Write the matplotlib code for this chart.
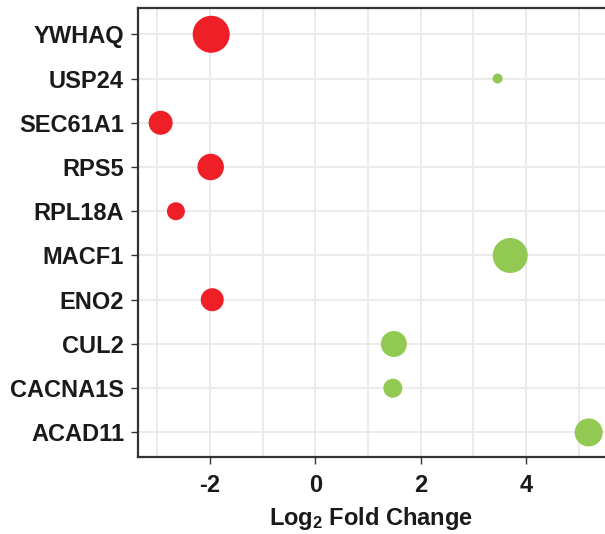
import matplotlib.pyplot as plt

plt.rcParams['font.family'] = ['Liberation Sans', 'DejaVu Sans']
plt.rcParams['font.weight'] = 'bold'
plt.rcParams['axes.unicode_minus'] = False
plt.rcParams['mathtext.fontset'] = 'custom'
plt.rcParams['mathtext.rm'] = 'Liberation Sans:bold'
plt.rcParams['mathtext.it'] = 'Liberation Sans:bold'
plt.rcParams['mathtext.bf'] = 'Liberation Sans:bold'

# genes from top to bottom
genes = ['YWHAQ', 'USP24', 'SEC61A1', 'RPS5', 'RPL18A',
         'MACF1', 'ENO2', 'CUL2', 'CACNA1S', 'ACAD11']
log2fc = [-1.98, 3.46, -2.94, -1.99, -2.65, 3.70, -1.96, 1.49, 1.47, 5.19]
# point diameter in pixels
diam_px = [37, 10, 24, 26.5, 18, 35, 23, 26, 19, 28]

red = '#EE1F26'
green = '#92C953'
colors = [red if v < 0 else green for v in log2fc]

fig = plt.figure(figsize=(6.05, 5.34), dpi=100)
ax = fig.add_axes([138 / 605, 77 / 534, 467 / 605, 449 / 534])

ypos = list(range(len(genes) - 1, -1, -1))
sizes = [(d * 0.72) ** 2 for d in diam_px]
ax.scatter(log2fc, ypos, s=sizes, c=colors, linewidths=0, zorder=3)

ax.set_xlim(-3.37, 5.50)
ax.set_ylim(-0.555, 9.594)
ax.set_xticks([-2, 0, 2, 4])
ax.set_xticks([-3, -1, 1, 3, 5], minor=True)
ax.set_yticks(ypos)
ax.set_yticklabels(genes)

ax.grid(True, which='both', color='#EBEBEB', linewidth=1.5, zorder=0)
ax.set_axisbelow(True)
ax.tick_params(axis='both', which='major', labelsize=17, length=5, width=1,
               color='#333333', labelcolor='#1a1a1a')
ax.tick_params(axis='x', which='minor', length=0)
ax.tick_params(axis='x', pad=7)
ax.tick_params(axis='y', pad=5)

for s in ['left', 'bottom', 'top']:
    ax.spines[s].set_color('#333333')
    ax.spines[s].set_linewidth(1.6)
ax.spines['right'].set_visible(False)

ax.set_xlabel('Log$_2$ Fold Change', fontsize=17, fontweight='bold',
              color='#1a1a1a', labelpad=6)

fig.savefig('out.png', dpi=100)
